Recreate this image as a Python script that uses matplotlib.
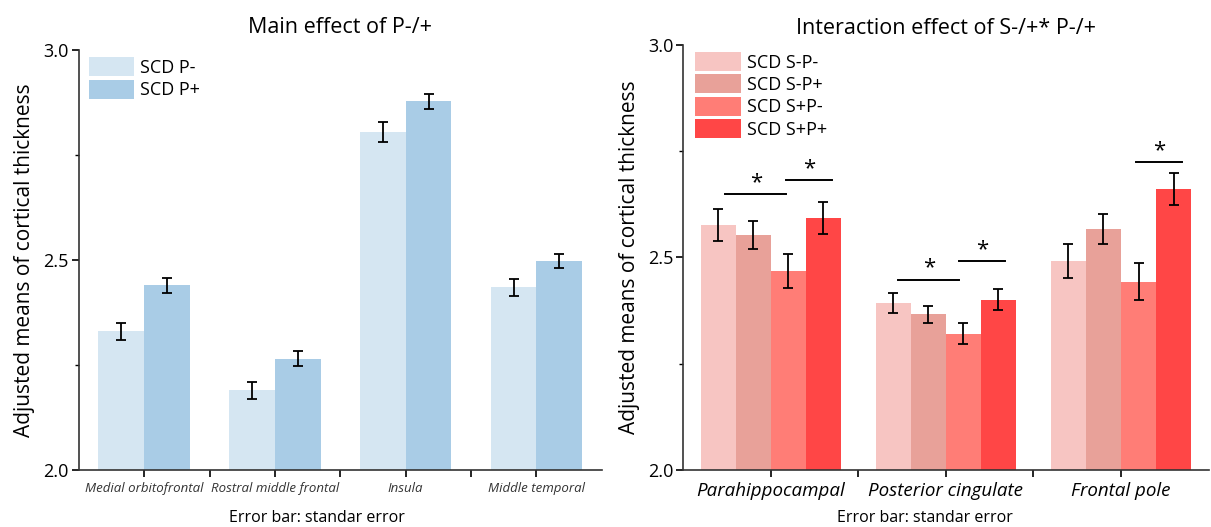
import matplotlib
matplotlib.use("Agg")
import matplotlib.pyplot as plt
import numpy as np
from matplotlib.ticker import MultipleLocator

plt.rcParams['font.family'] = ['Open Sans', 'DejaVu Sans']

# Left panel: main effect of P-/+
regions_left = ["Medial orbitofrontal", "Rostral middle frontal", "Insula", "Middle temporal"]
p_minus = [2.33, 2.19, 2.805, 2.435]
p_minus_err = [0.02, 0.02, 0.023, 0.02]
p_plus = [2.44, 2.265, 2.878, 2.498]
p_plus_err = [0.018, 0.018, 0.018, 0.016]
left_labels = ["SCD P-", "SCD P+"]
left_colors = ["#d5e6f2", "#a9cce6"]

# Right panel: interaction S-/+ * P-/+
regions_right = ["Parahippocampal", "Posterior cingulate", "Frontal pole"]
right_labels = ["SCD S-P-", "SCD S-P+", "SCD S+P-", "SCD S+P+"]
s_m_p_m = [2.577, 2.393, 2.492]
s_m_p_m_err = [0.038, 0.024, 0.04]
s_m_p_p = [2.553, 2.366, 2.567]
s_m_p_p_err = [0.032, 0.02, 0.035]
s_p_p_m = [2.468, 2.321, 2.443]
s_p_p_m_err = [0.04, 0.024, 0.044]
s_p_p_p = [2.593, 2.401, 2.661]
s_p_p_p_err = [0.037, 0.024, 0.037]
right_colors = ["#f7c5c2", "#e8a199", "#ff7d76", "#ff4646"]

# significance brackets: (group, x0 offset, x1 offset, y)
sig_lines = [(0, -0.26, 0.09, 2.649), (0, 0.09, 0.35, 2.682),
             (1, -0.27, 0.075, 2.448), (1, 0.075, 0.34, 2.492),
             (2, 0.085, 0.35, 2.725)]


def style_axes(ax):
    for s in ["top", "right"]:
        ax.spines[s].set_visible(False)
    for s in ["left", "bottom"]:
        ax.spines[s].set_linewidth(1.2)
        ax.spines[s].set_color("#333333")
    ax.set_ylim(2.0, 3.0)
    ax.set_yticks([2.0, 2.5, 3.0])
    ax.yaxis.set_minor_locator(MultipleLocator(0.25))
    ax.tick_params(axis="y", which="major", length=5, width=1.2, labelsize=13, pad=2)
    ax.tick_params(axis="y", which="minor", length=3, width=1.0)
    ax.tick_params(axis="x", which="major", length=5, width=1.2)
    ax.tick_params(axis="x", which="minor", length=5, width=1.2)
    ax.set_ylabel("Adjusted means of cortical thickness", fontsize=15, labelpad=6)


fig = plt.figure(figsize=(12.11, 5.27), dpi=100)
ekw = dict(ecolor="black", elinewidth=1.3, capsize=3.5, capthick=1.3)
leg_kw = dict(loc="upper left", frameon=False, fontsize=13, handlelength=2.5,
              handleheight=1.25, labelspacing=0.15, borderaxespad=0.0,
              handletextpad=0.35)

# ---- left
ax1 = fig.add_axes([0.065, 0.108, 0.432, 0.797])
x = np.arange(len(regions_left))
w = 0.35
ax1.bar(x - w / 2, p_minus, w, yerr=p_minus_err, color=left_colors[0],
        label=left_labels[0], error_kw=ekw)
ax1.bar(x + w / 2, p_plus, w, yerr=p_plus_err, color=left_colors[1],
        label=left_labels[1], error_kw=ekw)
ax1.set_xlim(-0.5, 3.5)
style_axes(ax1)
ax1.set_xticks(x)
ax1.set_xticklabels(regions_left, fontstyle="italic", fontsize=9.5, color="#333333")
ax1.set_xticks([0.5, 1.5, 2.5], minor=True)
ax1.set_xlabel("Error bar: standar error", fontsize=11.5, labelpad=10)
ax1.xaxis.set_label_coords(0.455, -0.095)
ax1.set_title("Main effect of P-/+", fontsize=15.5, pad=12)
ax1.legend(bbox_to_anchor=(0.005, 1.0), **leg_kw)

# ---- right
ax2 = fig.add_axes([0.564, 0.108, 0.434, 0.807])
x2 = np.arange(len(regions_right))
w2 = 0.2
series = [(s_m_p_m, s_m_p_m_err), (s_m_p_p, s_m_p_p_err),
          (s_p_p_m, s_p_p_m_err), (s_p_p_p, s_p_p_p_err)]
for i, (vals, errs) in enumerate(series):
    ax2.bar(x2 + (i - 1.5) * w2, vals, w2, yerr=errs, color=right_colors[i],
            label=right_labels[i], error_kw=ekw)
ax2.set_xlim(-0.5, 2.5)
style_axes(ax2)
ax2.set_xticks(x2)
ax2.set_xticklabels(regions_right, fontstyle="italic", fontsize=13.5)
ax2.set_xticks([0.5, 1.5], minor=True)
ax2.set_xlabel("Error bar: standar error", fontsize=11.5)
ax2.xaxis.set_label_coords(0.46, -0.095)
ax2.set_title("Interaction effect of S-/+* P-/+", fontsize=15.5, pad=8)
ax2.legend(bbox_to_anchor=(0.01, 1.0), **leg_kw)

for g, a, b, y in sig_lines:
    ax2.plot([g + a, g + b], [y, y], color="black", lw=1.4)
    ax2.text(g + (a + b) / 2, y + 0.002, "*", ha="center", va="bottom", fontsize=16)

fig.savefig("out.png", dpi=100)
